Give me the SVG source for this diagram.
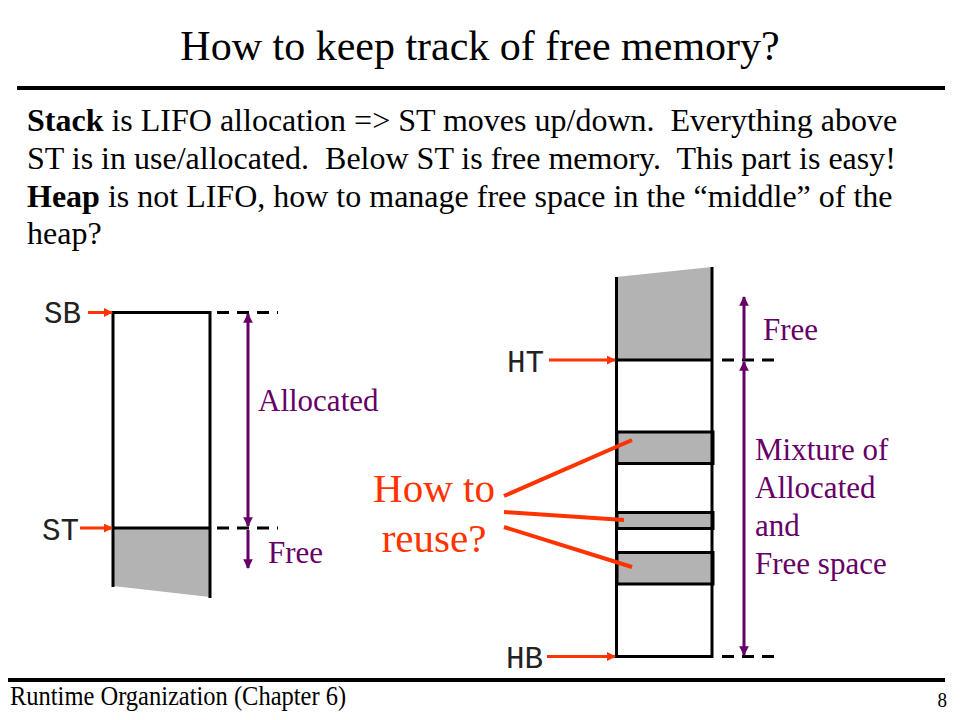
<svg xmlns="http://www.w3.org/2000/svg" width="960" height="720" viewBox="0 0 960 720">
<style>
.serif{font-family:"Liberation Serif","Times New Roman",serif;}
.mono{font-family:"Liberation Mono","Courier New",monospace;font-size:31px;fill:#222;}
.body{font-size:32px;fill:#000;white-space:pre;}
.purple{font-size:31px;fill:#660066;}
.red{font-size:41px;fill:#ff3300;}
.box{stroke:#000;stroke-width:3;fill:none;}
.gray{fill:#b3b3b3;stroke:none;}
.dash{stroke:#000;stroke-width:3;stroke-dasharray:12 8;fill:none;}
.parrow{stroke:#660066;stroke-width:3;fill:none;}
.rarrow{stroke:#ff3300;stroke-width:3;fill:none;}
.rline{stroke:#ff3300;stroke-width:4;fill:none;}
</style>
<defs>
<marker id="ph" viewBox="0 0 10 10" refX="9" refY="5" markerWidth="3.2" markerHeight="3.4" orient="auto-start-reverse" markerUnits="strokeWidth">
<path d="M0,0 L10,5 L0,10 z" fill="#660066"/>
</marker>
<marker id="rh" viewBox="0 0 10 10" refX="9" refY="5" markerWidth="3" markerHeight="3" orient="auto" markerUnits="strokeWidth">
<path d="M0,0 L10,5 L0,10 z" fill="#ff3300"/>
</marker>
</defs>
<rect width="960" height="720" fill="#fff"/>

<g id="title">
<text class="serif" x="480" y="60" font-size="42" text-anchor="middle">How to keep track of free memory?</text>
<line x1="17" y1="88" x2="945" y2="88" stroke="#000" stroke-width="4"/>
</g>

<g id="body-text" class="serif body">
<text xml:space="preserve" x="27" y="131"><tspan font-weight="bold">Stack</tspan> is LIFO allocation =&gt; ST moves up/down.  Everything above</text>
<text xml:space="preserve" x="27" y="169">ST is in use/allocated.  Below ST is free memory.  This part is easy!</text>
<text xml:space="preserve" x="27" y="207"><tspan font-weight="bold">Heap</tspan> is not LIFO, how to manage free space in the “middle” of the</text>
<text x="27" y="244">heap?</text>
</g>

<g id="stack">
<polygon class="gray" points="113,528 210,528 210,597 113,586"/>
<line class="box" x1="113" y1="311" x2="113" y2="587"/>
<line class="box" x1="210" y1="311" x2="210" y2="598"/>
<line class="box" x1="112" y1="312.5" x2="211" y2="312.5"/>
<line class="box" x1="112" y1="528" x2="211" y2="528"/>
<line class="dash" x1="217" y1="312.5" x2="278" y2="312.5"/>
<line class="dash" x1="217" y1="528" x2="278" y2="528"/>
</g>

<g id="heap">
<polygon class="gray" points="616,277 712,267 712,360 616,360"/>
<rect x="617" y="432" width="96" height="31.5" fill="#b3b3b3" stroke="#000" stroke-width="3"/>
<rect x="617" y="512.5" width="96" height="16" fill="#b3b3b3" stroke="#000" stroke-width="3"/>
<rect x="617" y="552.5" width="96" height="31.5" fill="#b3b3b3" stroke="#000" stroke-width="3"/>
<line class="box" x1="616.5" y1="277" x2="616.5" y2="658"/>
<line class="box" x1="712" y1="267" x2="712" y2="658"/>
<line class="box" x1="615" y1="360" x2="713" y2="360"/>
<line class="box" x1="615" y1="656.5" x2="713" y2="656.5"/>
<line class="dash" x1="722" y1="360" x2="778" y2="360"/>
<line class="dash" x1="722" y1="656.5" x2="778" y2="656.5"/>
</g>

<g id="labels">
<text class="mono" x="44" y="323">SB</text>
<text class="mono" x="42" y="540">ST</text>
<text class="mono" x="507" y="372">HT</text>
<text class="mono" x="506" y="668">HB</text>
<text class="serif purple" x="258" y="411">Allocated</text>
<text class="serif purple" x="268" y="563">Free</text>
<text class="serif purple" x="763" y="340">Free</text>
<text class="serif purple" x="755" y="460">Mixture of</text>
<text class="serif purple" x="755" y="498">Allocated</text>
<text class="serif purple" x="755" y="536">and</text>
<text class="serif purple" x="755" y="574">Free space</text>
<text class="serif red" x="434" y="502" text-anchor="middle">How to</text>
<text class="serif red" x="434" y="552" text-anchor="middle">reuse?</text>
</g>

<g id="connectors">
<line class="rarrow" x1="88" y1="312.5" x2="112" y2="312.5" marker-end="url(#rh)"/>
<line class="rarrow" x1="80" y1="528" x2="112" y2="528" marker-end="url(#rh)"/>
<line class="rarrow" x1="549" y1="360" x2="615" y2="360" marker-end="url(#rh)"/>
<line class="rarrow" x1="547" y1="656.5" x2="615" y2="656.5" marker-end="url(#rh)"/>
<line class="parrow" x1="248" y1="314" x2="248" y2="526" marker-start="url(#ph)" marker-end="url(#ph)"/>
<line class="parrow" x1="248" y1="530" x2="248" y2="568" marker-end="url(#ph)"/>
<line class="parrow" x1="744" y1="360" x2="744" y2="297" marker-end="url(#ph)"/>
<line class="parrow" x1="744" y1="362" x2="744" y2="655" marker-start="url(#ph)" marker-end="url(#ph)"/>
<line class="rline" x1="504" y1="496" x2="632" y2="440"/>
<line class="rline" x1="504" y1="512" x2="624" y2="520"/>
<line class="rline" x1="504" y1="527" x2="632" y2="567"/>
</g>

<g id="footer">
<line x1="8" y1="680" x2="945" y2="680" stroke="#000" stroke-width="4"/>
<text class="serif" transform="translate(10,705) scale(1,1.13)" x="0" y="0" font-size="24.5" fill="#000">Runtime Organization (Chapter 6)</text>
<text class="serif" transform="translate(947,707) scale(1,1.13)" x="0" y="0" font-size="19" fill="#000" text-anchor="end">8</text>
</g>
</svg>
